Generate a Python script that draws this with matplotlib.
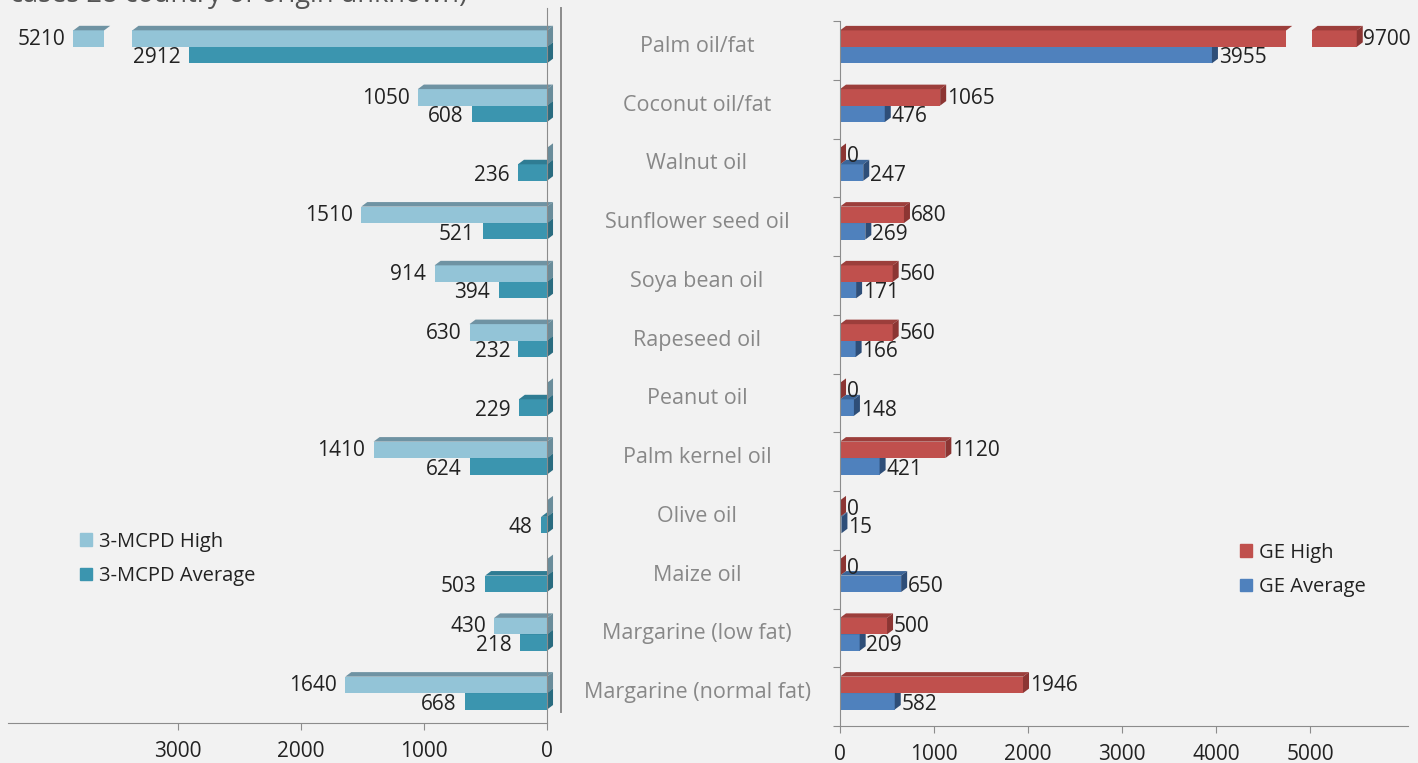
import numpy as np
import matplotlib.pyplot as plt
from matplotlib.patches import Polygon, Patch
from matplotlib.lines import Line2D
from matplotlib.transforms import blended_transform_factory

plt.rcParams['font.family'] = ['Open Sans', 'DejaVu Sans']

# Data
categories = ["Palm oil/fat", "Coconut oil/fat", "Walnut oil", "Sunflower seed oil",
              "Soya bean oil", "Rapeseed oil", "Peanut oil", "Palm kernel oil",
              "Olive oil", "Maize oil", "Margarine (low fat)", "Margarine (normal fat)"]
mcpd_high = [5210, 1050, 0, 1510, 914, 630, 0, 1410, 0, 0, 430, 1640]
mcpd_avg = [2912, 608, 236, 521, 394, 232, 229, 624, 48, 503, 218, 668]
ge_high = [9700, 1065, 0, 680, 560, 560, 0, 1120, 0, 0, 500, 1946]
ge_avg = [3955, 476, 247, 269, 171, 166, 148, 421, 15, 650, 209, 582]

W, H = 1418, 763
BG = '#F2F2F2'

# colours: (front, top, side)
C_MH = ('#93C4D7', '#6F93A3', '#6A8D9B')
C_MA = ('#3B95AF', '#2F7C93', '#2A6C80')
C_GH = ('#C0504D', '#9C3E3B', '#8C3533')
C_GA = ('#4F81BD', '#3B6598', '#2E4E78')

BAR_H = 0.28
SHIFT = 0.06
DY = 0.077


def fig_box(x0, y0, x1, y1):
    return [x0 / W, 1 - y1 / H, (x1 - x0) / W, (y1 - y0) / H]


def bar3d(ax, xl, xr, yb, cols, dx, side=True, top=True):
    """Fake 3D bar. xl/xr = pixel-left and pixel-right ends (data units)."""
    yt = yb + BAR_H
    ax.add_patch(Polygon([(xl, yb), (xr, yb), (xr, yt), (xl, yt)], closed=True,
                         facecolor=cols[0], edgecolor='none', clip_on=False))
    if top:
        ax.add_patch(Polygon([(xl, yt), (xr, yt), (xr + dx, yt + DY), (xl + dx, yt + DY)],
                             closed=True, facecolor=cols[1], edgecolor='none', clip_on=False))
    if side:
        ax.add_patch(Polygon([(xr, yb), (xr + dx, yb + DY), (xr + dx, yt + DY), (xr, yt)],
                             closed=True, facecolor=cols[2], edgecolor='none', clip_on=False))


fig = plt.figure(figsize=(W / 100, H / 100), dpi=100, facecolor=BG)

axL = fig.add_axes(fig_box(8, 8, 547, 723))
axR = fig.add_axes(fig_box(840, 21, 1408, 726))
for ax in (axL, axR):
    ax.set_facecolor('none')

axL.set_xlim(4382, 0)
axL.set_ylim(-0.449, 11.72)
axR.set_xlim(0, 6040)
axR.set_ylim(-0.5, 11.5)

dxL = -49   # depth goes to the right, left axis is inverted
dxR = 64

n = len(categories)
lab_kw = dict(fontsize=15, color='#222222', va='center', textcoords='offset points')

# breaks for the over-long palm oil bars: (main end, stub start, stub end)
breakL = (3370, 3600, 3850)
breakR = (4745, 5015, 5495)

for i in range(n):
    v = n - 1 - i
    y_hi = v + SHIFT
    y_av = v + SHIFT - BAR_H

    # left panel: average first, then high on top of it
    bar3d(axL, mcpd_avg[i], 0, y_av, C_MA, dxL)
    axL.annotate(str(mcpd_avg[i]), (mcpd_avg[i], y_av + BAR_H / 2), xytext=(-6, -2),
                 ha='right', **lab_kw)
    if mcpd_high[i] > breakL[0]:
        bar3d(axL, breakL[0], 0, y_hi, C_MH, dxL)
        bar3d(axL, breakL[2], breakL[1], y_hi, C_MH, dxL, side=False)
        xlab = breakL[2]
    else:
        bar3d(axL, mcpd_high[i], 0, y_hi, C_MH, dxL)
        xlab = mcpd_high[i]
    if mcpd_high[i] > 0:
        axL.annotate(str(mcpd_high[i]), (xlab, y_hi + BAR_H / 2), xytext=(-6, -0.5),
                     ha='right', **lab_kw)

    # right panel
    bar3d(axR, 0, ge_avg[i], y_av, C_GA, dxR)
    axR.annotate(str(ge_avg[i]), (ge_avg[i] + dxR, y_av + BAR_H / 2), xytext=(0.5, -2),
                 ha='left', **lab_kw)
    if ge_high[i] > breakR[0]:
        bar3d(axR, 0, breakR[0], y_hi, C_GH, dxR, side=False)
        bar3d(axR, breakR[1], breakR[2], y_hi, C_GH, dxR)
        xlab = breakR[2]
    else:
        bar3d(axR, 0, ge_high[i], y_hi, C_GH, dxR)
        xlab = ge_high[i]
    axR.annotate(str(ge_high[i]), (xlab + dxR, y_hi + BAR_H / 2), xytext=(0.5, -0.5),
                 ha='left', **lab_kw)

# category labels in the gap between the panels
tr = blended_transform_factory(fig.transFigure, axR.transData)
for i, c in enumerate(categories):
    axR.text(697 / W, n - 1 - i + 0.07, c, transform=tr, fontsize=15.5, color='#888888',
             ha='center', va='center', clip_on=False)

# spines and ticks
for sp in ('top', 'left'):
    axL.spines[sp].set_visible(False)
axL.spines['right'].set_color('#8C8C8C')
axL.spines['bottom'].set_color('#8C8C8C')
axL.set_yticks([])
axL.set_xticks([0, 1000, 2000, 3000])
axL.tick_params(axis='x', direction='out', length=5, color='#8C8C8C', labelsize=15,
                labelcolor='#222222', pad=8)

for sp in ('top', 'right'):
    axR.spines[sp].set_visible(False)
axR.spines['left'].set_color('#8C8C8C')
axR.spines['bottom'].set_color('#8C8C8C')
axR.set_yticks(np.arange(-0.5, n, 1.0))
axR.set_yticklabels([])
axR.tick_params(axis='y', direction='out', length=5, color='#8C8C8C')
axR.set_xticks([0, 1000, 2000, 3000, 4000, 5000])
axR.tick_params(axis='x', direction='out', length=5, color='#8C8C8C', labelsize=15,
                labelcolor='#222222', pad=8)

# separator line between the two panels
fig.add_artist(Line2D([561 / W, 561 / W], [1 - 712 / H, 1 - 8 / H], color='#8C8C8C', lw=1.4))

# legends
legL = fig.legend([Patch(color=C_MH[0]), Patch(color=C_MA[0])], ['3-MCPD High', '3-MCPD Average'],
                  loc='center left', bbox_to_anchor=(62 / W, 1 - 559 / H), frameon=False,
                  fontsize=14.5, handlelength=0.6, handleheight=0.6, handletextpad=0.35,
                  labelspacing=0.7)
legR = fig.legend([Patch(color=C_GH[0]), Patch(color=C_GA[0])], ['GE High', 'GE Average'],
                  loc='center left', bbox_to_anchor=(1222 / W, 1 - 570 / H), frameon=False,
                  fontsize=14.5, handlelength=0.6, handleheight=0.6, handletextpad=0.35,
                  labelspacing=0.7)
for leg in (legL, legR):
    for t in leg.get_texts():
        t.set_color('#222222')

# caption of the source figure, cut off at the top edge as in the original
fig.text(10 / W, 1 - 2 / H, 'cases 28 country of origin unknown)', fontsize=19.5, color='#555555',
         ha='left', va='baseline')

fig.savefig('out.png', dpi=100, facecolor=BG)
